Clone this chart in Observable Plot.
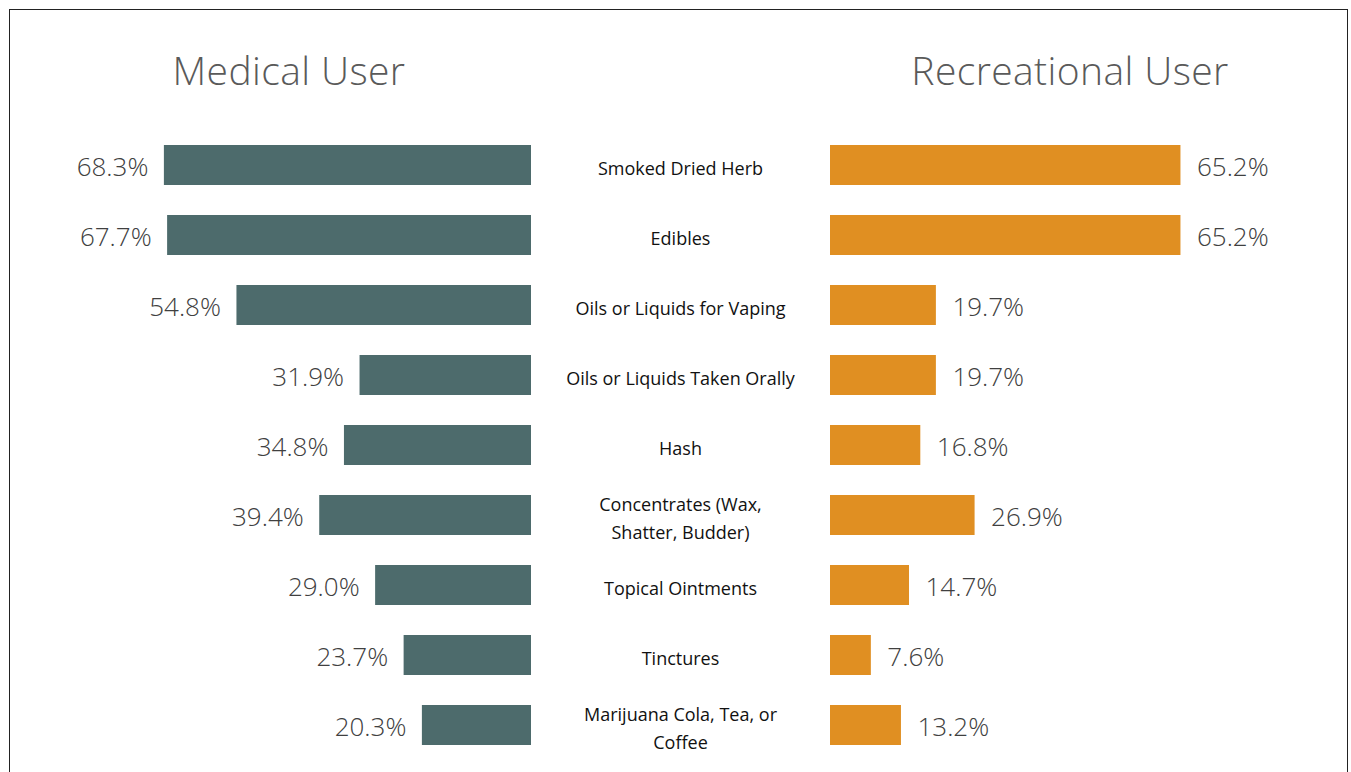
<!DOCTYPE html>
<html>
<head>
<meta charset="utf-8">
<script src="https://cdn.jsdelivr.net/npm/d3@7"></script>
<script src="https://cdn.jsdelivr.net/npm/@observablehq/plot@0.6"></script>
<style>
  html, body { margin: 0; padding: 0; background: #fff; }
  #wrap { position: relative; width: 1351px; height: 772px; overflow: hidden; font-family: "Open Sans", sans-serif; }
  #frame { position: absolute; left: 9px; top: 9px; width: 1339px; height: 800px; border: 1px solid #222; box-sizing: border-box; }
  .ttl { position: absolute; top: 43px; font-size: 39px; color: #5a5a5a; white-space: nowrap; transform: translateX(-50%); font-weight: 300; letter-spacing: 0.4px; }
  .layer { position: absolute; left: 0; top: 0; }
</style>
</head>
<body>
<div id="wrap">
  <div id="frame"></div>
  <div class="ttl" style="left:289px">Medical User</div>
  <div class="ttl" style="left:1070px">Recreational User</div>
</div>
<script>
const categories = [
  "Smoked Dried Herb",
  "Edibles",
  "Oils or Liquids for Vaping",
  "Oils or Liquids Taken Orally",
  "Hash",
  "Concentrates (Wax,\nShatter, Budder)",
  "Topical Ointments",
  "Tinctures",
  "Marijuana Cola, Tea, or\nCoffee"
];
const medical = [68.3, 67.7, 54.8, 31.9, 34.8, 39.4, 29.0, 23.7, 20.3];
const recreational = [65.2, 65.2, 19.7, 19.7, 16.8, 26.9, 14.7, 7.6, 13.2];

const medData = categories.map((c, i) => ({cat: c, v: medical[i]}));
const recData = categories.map((c, i) => ({cat: c, v: recreational[i]}));

const W = 1351, H = 772;
const pxPer = 5.375;
const yScale = {domain: categories, range: [115, 775], padding: 3/7, axis: null};
const fmt = d => d.v.toFixed(1) + "%";
const valFont = {fontSize: 26, fill: "#404040", fontFamily: "Open Sans, sans-serif", fontWeight: 300, dy: 2};

const left = Plot.plot({
  width: W, height: H, margin: 0,
  x: {domain: [0, 70], range: [531, 531 - 70 * pxPer], axis: null},
  y: yScale,
  marks: [
    Plot.barX(medData, {x: "v", y: "cat", fill: "#4d6b6c"}),
    Plot.text(medData, {x: "v", y: "cat", text: fmt, textAnchor: "end", dx: -16, ...valFont})
  ]
});

const right = Plot.plot({
  width: W, height: H, marginLeft: 9, marginRight: 0, marginTop: 0, marginBottom: 0,
  x: {domain: [0, 70], range: [830, 830 + 70 * pxPer], axis: null},
  y: yScale,
  marks: [
    Plot.barX(recData, {x: "v", y: "cat", fill: "#e08f22"}),
    Plot.text(recData, {x: "v", y: "cat", text: fmt, textAnchor: "start", dx: 16, ...valFont}),
    Plot.text(recData, {y: "cat", text: "cat", frameAnchor: "middle", fontSize: 18, fill: "#111", lineHeight: 1.55, dy: 1, fontFamily: "Open Sans, sans-serif", style: "letter-spacing:0.6px"})
  ]
});

for (const svg of [left, right]) {
  svg.classList.add("layer");
  svg.style.background = "transparent";
  document.getElementById("wrap").appendChild(svg);
}
</script>
</body>
</html>
